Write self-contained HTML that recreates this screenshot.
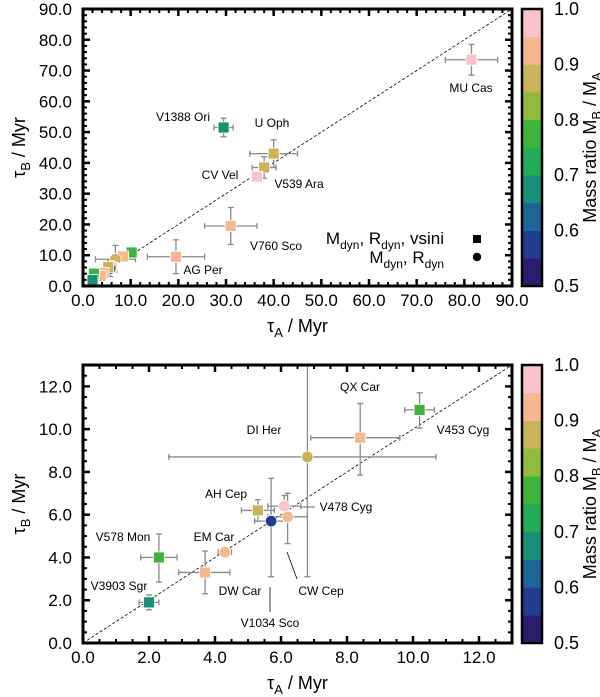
<!DOCTYPE html>
<html><head><meta charset="utf-8">
<style>
html,body{margin:0;padding:0;background:#fff;}
svg{display:block;font-family:"Liberation Sans",Arial,sans-serif;}
</style></head>
<body>
<svg id="fig" width="600" height="697" viewBox="0 0 600 697" xmlns="http://www.w3.org/2000/svg"></svg>
<script>
// ---------- data ----------
const topNames  = ["MU Cas","V1388 Ori","U Oph","V539 Ara","CV Vel","V760 Sco","AG Per","V453 Cyg","QX Car","DI Her","CW Cep","V478 Cyg","V1034 Sco","AH Cep","EM Car","DW Car","V578 Mon","V3903 Sgr"];
const topX      = [81.5,29.5,40,38,36.5,31,19.5,10.2,8.4,6.8,6.2,6.1,5.7,5.3,4.3,3.7,2.3,2.0];
const topY      = [73.5,51.5,43,38.5,35.5,19.5,9.5,10.9,9.6,8.7,5.9,6.4,5.7,6.2,4.25,3.3,4.0,1.9];
const topXerr   = [5.5,2,5,2.5,0.8,5.5,6,0.45,1.5,4.2,0.6,0.5,0.5,0.5,0.2,0.8,0.55,0.3];
const topYerr   = [5,3,4.5,3.5,0.8,6,5.5,0.8,1.6,4.5,1.2,0.5,2.6,0.5,0.2,1.0,1.1,0.35];
const topRatio  = [0.97,0.68,0.87,0.87,0.97,0.92,0.92,0.77,0.92,0.87,0.92,0.97,0.57,0.87,0.92,0.92,0.77,0.68];
const topShape  = ["s","s","s","s","s","s","s","s","s","c","s","c","c","s","s","s","s","s"];

const botNames  = ["V3903 Sgr","V578 Mon","DW Car","EM Car","AH Cep","V1034 Sco","V478 Cyg","CW Cep","DI Her","QX Car","V453 Cyg"];
const botX      = [2.0,2.3,3.7,4.3,5.3,5.7,6.1,6.2,6.8,8.4,10.2];
const botY      = [1.9,4.0,3.3,4.25,6.2,5.7,6.4,5.9,8.7,9.6,10.9];
const botXlo    = [0.3,0.55,0.8,0.2,0.5,0.5,0.5,0.6,4.2,1.5,0.45];
const botXhi    = [0.3,0.55,0.75,0.2,0.5,0.5,0.5,0.6,3.9,1.2,0.45];
const botYlo    = [0.35,1.15,1.0,0.2,0.5,2.6,0.5,1.25,5.6,1.75,0.85];
const botYhi    = [0.35,1.1,1.0,0.2,0.5,2.0,0.5,1.1,5.0,1.6,0.8];
const botRatio  = [0.68,0.77,0.92,0.92,0.87,0.57,0.97,0.92,0.87,0.92,0.77];
const botShape  = ["s","s","s","c","s","c","c","c","c","s","s"];

const topTicks  = ["0.0","10.0","20.0","30.0","40.0","50.0","60.0","70.0","80.0","90.0"];
const botTicks  = ["0.0","2.0","4.0","6.0","8.0","10.0","12.0"];
const cbTicks   = ["0.5","0.6","0.7","0.8","0.9","1.0"];
const cbColors  = ["#2b1d6c","#203c8f","#1b6695","#169079","#24ab58","#3fb43d","#90bb3c","#cbb35b","#f7b88f","#f9c3cc"];

// ---------- helpers ----------
const NS="http://www.w3.org/2000/svg";
const svg=document.getElementById("fig");
function mk(tag,attrs,parent){const e=document.createElementNS(NS,tag);for(const k in attrs)e.setAttribute(k,attrs[k]);(parent||svg).appendChild(e);return e;}
function txt(s,x,y,size,anchor,parent){const t=mk("text",{x:x,y:y,"font-size":size,"text-anchor":anchor||"middle",fill:"#000"},parent);t.textContent=s;return t;}
function colorFor(r){let i=Math.floor((r-0.5)/0.05);i=Math.max(0,Math.min(9,i));return cbColors[i];}

function panel(cfg){
  const g=mk("g",{});
  
  
  const sx=v=>cfg.x0+(v-cfg.min)/(cfg.max-cfg.min)*(cfg.x1-cfg.x0);
  const sy=v=>cfg.y0-(v-cfg.min)/(cfg.max-cfg.min)*(cfg.y0-cfg.y1);
  const d=mk("line",{x1:sx(0),y1:sy(0),x2:sx(cfg.max),y2:sy(cfg.max),stroke:"#000","stroke-width":0.8,"stroke-dasharray":"3,2"},g);
  
  
  const tg=mk("g",{stroke:"#000"},g);
  for(let v=cfg.min;v<=cfg.max+1e-9;v+=cfg.minor){
    const major=Math.abs(v/cfg.major-Math.round(v/cfg.major))<1e-6;
    const L=major?7:4, w=major?2.5:2;
    mk("line",{x1:sx(v),y1:cfg.y0,x2:sx(v),y2:cfg.y0-L,"stroke-width":w},tg);
    mk("line",{x1:sx(v),y1:cfg.y1,x2:sx(v),y2:cfg.y1+L,"stroke-width":w},tg);
    mk("line",{x1:cfg.x0,y1:sy(v),x2:cfg.x0+L,y2:sy(v),"stroke-width":w},tg);
    mk("line",{x1:cfg.x1,y1:sy(v),x2:cfg.x1-L,y2:sy(v),"stroke-width":w},tg);
  }
  cfg.ticks.forEach((s,i)=>{
    const v=cfg.min+i*cfg.major;
    const a=txt(s,sx(v),cfg.y0+20,17,"middle",g);
    
    
    const b=txt(s,cfg.x0-11,sy(v)+6,17,"end",g);
    
    
  });
  for(let i=0;i<cfg.px.length;i++){
    const x=cfg.px[i],y=cfg.py[i];
    const eg=mk("g",{stroke:"#8a8a8a","stroke-width":1.3},g);
    
    
    const xl=Math.max(cfg.min,x-cfg.xlo[i]),xh=Math.min(cfg.max,x+cfg.xhi[i]);
    const yl=Math.max(cfg.min,y-cfg.ylo[i]),yh=Math.min(cfg.max,y+cfg.yhi[i]);
    mk("line",{x1:sx(xl),y1:sy(y),x2:sx(xh),y2:sy(y)},eg);
    mk("line",{x1:sx(x),y1:sy(yl),x2:sx(x),y2:sy(yh)},eg);
    if(x-cfg.xlo[i]>cfg.min) mk("line",{x1:sx(xl),y1:sy(y)-3,x2:sx(xl),y2:sy(y)+3},eg);
    if(x+cfg.xhi[i]<cfg.max) mk("line",{x1:sx(xh),y1:sy(y)-3,x2:sx(xh),y2:sy(y)+3},eg);
    if(y-cfg.ylo[i]>cfg.min) mk("line",{x1:sx(x)-3,y1:sy(yl),x2:sx(x)+3,y2:sy(yl)},eg);
    if(y+cfg.yhi[i]<cfg.max) mk("line",{x1:sx(x)-3,y1:sy(yh),x2:sx(x)+3,y2:sy(yh)},eg);
  }
  for(let i=0;i<cfg.px.length;i++){
    const c=colorFor(cfg.ratio[i]);let m;
    if(cfg.shape[i]==="s") m=mk("rect",{x:sx(cfg.px[i])-5.5,y:sy(cfg.py[i])-5.5,width:11,height:11,fill:c,stroke:"#fff","stroke-width":0.8},g);
    else m=mk("circle",{cx:sx(cfg.px[i]),cy:sy(cfg.py[i]),r:5.8,fill:c,stroke:"#fff","stroke-width":0.8},g);
    
    
  }
  const f=mk("rect",{x:cfg.x0,y:cfg.y1,width:cfg.x1-cfg.x0,height:cfg.y0-cfg.y1,fill:"none",stroke:"#000","stroke-width":3},g);
  
  
  const cg=mk("g",{},g);
  
  
  const ch=(cfg.y0-cfg.y1)/10;
  cbColors.forEach((c,i)=>{mk("rect",{x:522,y:cfg.y0-(i+1)*ch,width:20,height:ch+0.3,fill:c},cg);});
  mk("rect",{x:522,y:cfg.y1,width:20,height:cfg.y0-cfg.y1,fill:"none",stroke:"#000","stroke-width":2.5},cg);
  cbTicks.forEach((s,i)=>{
    const t=txt(s,554,cfg.y0-i*2*ch+6,18,"start",cg);
    
    
  });
  const cl=mk("text",{x:0,y:0,"font-size":18,"text-anchor":"middle",transform:`translate(596,${(cfg.y0+cfg.y1)/2}) rotate(-90)`},cg);
  cl.innerHTML='Mass ratio M<tspan dy="5" font-size="13">B</tspan><tspan dy="-5"> / M</tspan><tspan dy="5" font-size="13">A</tspan>';
  
  
  const yt=mk("text",{x:0,y:0,"font-size":18,"text-anchor":"middle",transform:`translate(25,${(cfg.y0+cfg.y1)/2}) rotate(-90)`},g);
  yt.innerHTML='τ<tspan dy="5" font-size="13">B</tspan><tspan dy="-5"> / Myr</tspan>';
  
  
  const xt=mk("text",{x:(cfg.x0+cfg.x1)/2,y:cfg.y0+46,"font-size":18,"text-anchor":"middle"},g);
  xt.innerHTML='τ<tspan dy="5" font-size="13">A</tspan><tspan dy="-5"> / Myr</tspan>';
  
  
  cfg.labels.forEach(l=>{
    const t=txt(l[0],l[1],l[2]+4,12,"middle",g);
    
    
  });
  return g;
}

panel({name:"top-panel",x0:83,x1:512,y0:286,y1:9,min:0,max:90,major:10,minor:2,ticks:topTicks,
  names:topNames,px:topX,py:topY,xlo:topXerr,xhi:topXerr,ylo:topYerr,yhi:topYerr,ratio:topRatio,shape:topShape,
  labels:[["MU Cas",471,88],["V1388 Ori",183,117],["U Oph",272,123],["CV Vel",220,175],["V539 Ara",299,184],["V760 Sco",276,246],["AG Per",203,270]]});

panel({name:"bottom-panel",x0:83,x1:512,y0:643,y1:365,min:0,max:13,major:2,minor:0.5,ticks:botTicks,
  names:botNames,px:botX,py:botY,xlo:botXlo,xhi:botXhi,ylo:botYlo,yhi:botYhi,ratio:botRatio,shape:botShape,
  labels:[["QX Car",360,387],["DI Her",264,430],["V453 Cyg",463,430],["AH Cep",226,494],["V478 Cyg",346,507],["V578 Mon",123,537],["EM Car",214,537],["V3903 Sgr",119,586],["DW Car",240,591],["CW Cep",321,591],["V1034 Sco",270,623]]});

const l1=mk("line",{x1:287,y1:552,x2:297,y2:579,stroke:"#000","stroke-width":0.8});


const l2=mk("line",{x1:270,y1:587,x2:270,y2:612,stroke:"#000","stroke-width":0.8});


const l3=mk("line",{x1:300,y1:507,x2:315,y2:507,stroke:"#8a8a8a","stroke-width":1.3});



const lg=mk("g",{});


const t1=mk("text",{x:444,y:244,"font-size":17,"text-anchor":"end"},lg);
t1.innerHTML='M<tspan dy="5" font-size="12">dyn</tspan><tspan dy="-5">, R</tspan><tspan dy="5" font-size="12">dyn</tspan><tspan dy="-5">, vsini</tspan>';
const t2=mk("text",{x:444,y:263,"font-size":17,"text-anchor":"end"},lg);
t2.innerHTML='M<tspan dy="5" font-size="12">dyn</tspan><tspan dy="-5">, R</tspan><tspan dy="5" font-size="12">dyn</tspan>';
const ls=mk("rect",{x:473,y:235,width:8,height:8,fill:"#000"},lg);


const lc=mk("circle",{cx:477,cy:257,r:4.2,fill:"#000"},lg);


</script>
</body></html>
